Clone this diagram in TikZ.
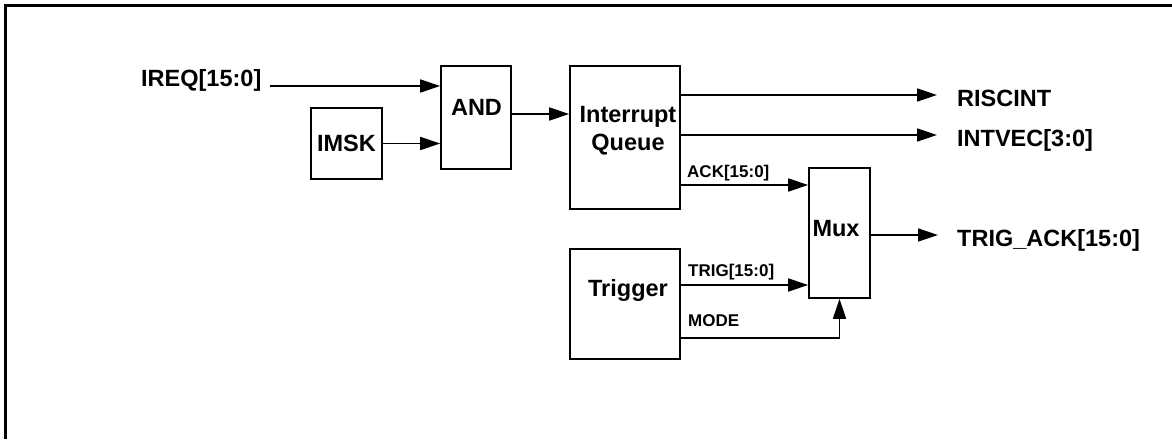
\documentclass[tikz,border=0pt]{standalone}
\usepackage{fontspec}
\setmainfont{Liberation Sans}
\usetikzlibrary{arrows.meta,calc}
\begin{document}
\begin{tikzpicture}[x=1pt,y=-1pt,
  box/.style={draw,line width=1.6pt,inner sep=0pt},
  big/.style={font=\fontsize{23.5}{28}\selectfont\bfseries},
  small/.style={font=\fontsize{17}{20}\selectfont\bfseries},
  txt/.style={inner sep=0pt,anchor=base west},
  wire/.style={line width=1.6pt},
  arr/.style={wire,-{Triangle[length=20pt,width=13pt]}}]
\useasboundingbox (0,0) rectangle (1172,439);
\draw[line width=3pt] (5.5,439) -- (5.5,5.5) -- (1172,5.5);

% boxes
\node[box,minimum width=71pt,minimum height=71pt,big] (imsk) at (346.5,143.5) {IMSK};
\node[box,minimum width=70pt,minimum height=103pt] (and) at (476,117.5) {};
\node[big,inner sep=0pt] (andtxt) at (476.5,107) {AND};
\node[box,minimum width=110pt,minimum height=143pt] (q) at (625,137.5) {};
\node[big,inner sep=0pt,align=center] (qtxt) at (628,131) {Interrupt\\Queue};
\node[box,minimum width=61pt,minimum height=130pt] (mux) at (839.5,233) {};
\node[big,inner sep=0pt,anchor=base] (muxtxt) at (836,236) {Mux};
\node[box,minimum width=110pt,minimum height=110pt] (trig) at (625,304) {};
\node[big,inner sep=0pt,anchor=base] (trigtxt) at (628,296) {Trigger};

% signal texts
\node[big,txt] (ireq) at (141,86) {IREQ[15:0]};
\node[big,txt] (riscint) at (957,106) {RISCINT};
\node[big,txt] (intvec) at (957,146) {INTVEC[3:0]};
\node[big,txt] (trigack) at (957,246) {TRIG\_ACK[15:0]};
\node[small,txt] (acklbl) at (687,177) {ACK[15:0]};
\node[small,txt] (triglbl) at (688,276) {TRIG[15:0]};
\node[small,txt] (modelbl) at (688,326) {MODE};

% arrow end points
\coordinate (riscintIn) at (937,95);
\coordinate (intvecIn) at (937,135);
\coordinate (outIn) at (938,235);
\coordinate (ackOut) at ($(q.east)+(0,47.5)$);
\coordinate (trigOut) at ($(trig.east)+(0,-19)$);
\coordinate (modeOut) at ($(trig.east)+(0,34)$);

% connectors
\draw[arr] ([xshift=8pt]ireq.base east) -- (ireq.base east -| and.west);
\draw[arr] (imsk.east) -- (imsk.east -| and.west);
\draw[arr] ([yshift=3.5pt]and.east) -- ([yshift=3.5pt]and.east -| q.west);
\draw[arr] (q.east |- riscintIn) -- (riscintIn);
\draw[arr] (q.east |- intvecIn) -- (intvecIn);
\draw[arr] (ackOut) -- (ackOut -| mux.west);
\draw[arr] (mux.east |- outIn) -- (outIn);
\draw[arr] (trigOut) -- (trigOut -| mux.west);
\draw[arr] (modeOut) -| (mux.south);
\end{tikzpicture}
\end{document}
